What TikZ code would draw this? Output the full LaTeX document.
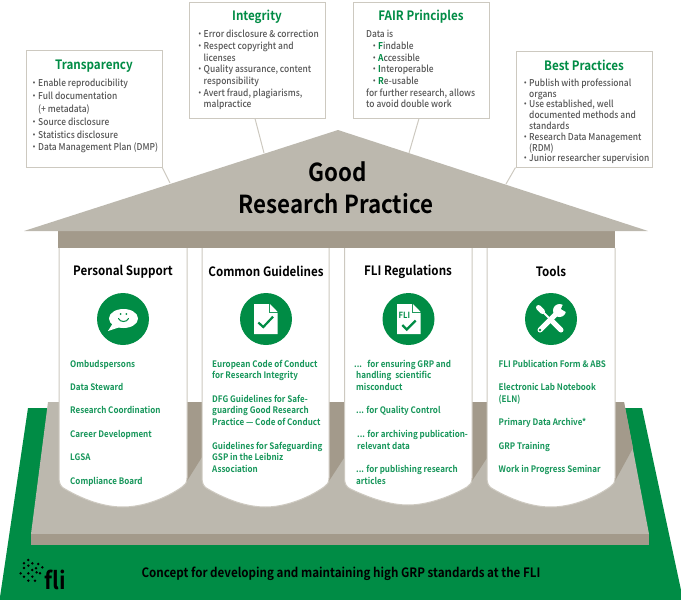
\documentclass[tikz,border=0pt]{standalone}
\usepackage{fontspec}
\setmainfont{Noto Sans CJK SC}[UprightFont=* Medium,BoldFont=* Bold,FakeStretch=0.9]
\definecolor{grpgreen}{HTML}{008C45}
\definecolor{listgreen}{HTML}{16965A}
\definecolor{roofc}{HTML}{BCB8AE}
\definecolor{beamc}{HTML}{A39A8B}
\definecolor{linec}{HTML}{CDC9C0}
\definecolor{bodyc}{HTML}{555555}
\newcommand{\bl}{\makebox[5pt][l]{\hspace{-3.2pt}·}}
\newcommand{\ind}{\hspace*{5pt}}
\newcommand{\gapl}{\\[11.7pt]}
\newcommand{\gr}[1]{\textcolor{grpgreen}{\textbf{#1}}}
\tikzset{
  infobox/.style={draw=linec,line width=1pt,fill=white,inner sep=0pt},
  boxtitle/.style={text=grpgreen,font=\fontsize{12.9}{15}\selectfont\bfseries,inner sep=0pt,text height=9.5pt,text depth=3pt,yshift=-2pt},
  bodytext/.style={text=bodyc,align=left,anchor=north west,inner sep=0pt,font=\fontsize{9.4}{11.7}\selectfont,execute at begin node={\strut}},
  coltitle/.style={text=black,font=\fontsize{12.9}{15}\selectfont\bfseries,inner sep=0pt,text height=9.5pt,text depth=3pt,yshift=-2pt},
  coltext/.style={text=listgreen,align=left,anchor=north west,inner sep=0pt,font=\fontsize{8.95}{11.7}\selectfont\bfseries,execute at begin node={\strut}},
  column/.style={fill=white,draw=linec,line width=1pt},
  icondisc/.style={circle,fill=grpgreen,minimum size=52pt,inner sep=0pt},
  lead/.style={draw=linec,line width=1pt},
}
\begin{document}
\begin{tikzpicture}[x=1pt,y=-1pt]
\useasboundingbox (0,0) rectangle (681,600);
% ground
\fill[grpgreen] (28,408) -- (642,408) -- (681,590) -- (681,600) -- (0,600) -- (0,597) -- cycle;
% platform
\fill[roofc] (48,402) -- (624,402) -- (649,534) -- (31,534) -- cycle;
\fill[beamc] (31,534) rectangle (649,545);
\fill[beamc] (187,402) -- (624,402) -- (633,448) -- (615,481) -- (615,402) -- (487,402) -- (487,458) -- (472,481) -- (472,402) -- (344,402) -- (344,458) -- (329,481) -- (329,402) -- (202,402) -- (202,457) -- (187,481) -- cycle;
% columns
\foreach \l/\r/\b in {59/187/507,202/329/507,344.5/472/505,487/615/507}{
  \path[column] (\l,248) -- (\l,478) .. controls (\l,484) and (\l+2,487) .. (\l+6,489)
    .. controls ({\l+25},{\b-7}) and ({\l+45},\b) .. ({(\l+\r)/2},\b)
    .. controls ({\r-45},\b) and ({\r-22},{\b-8}) .. (\r-5,487)
    .. controls (\r-2,485) and (\r,483) .. (\r,478) -- (\r,248);
}
% roof and beam
\fill[beamc] (58,231) rectangle (615,248);
\fill[roofc] (24,231) -- (338,130) -- (648,231) -- cycle;
\node[font=\fontsize{24.8}{32}\selectfont\bfseries,align=center,text=black,inner sep=0pt] (rooftext) at (336,188) {\hspace*{3pt}Good\\Research Practice};
% boxes
\node[infobox,minimum width=136pt,minimum height=117pt] (transp) at (94,109) {};
\node[infobox,minimum width=136pt,minimum height=116pt] (integ) at (257,60) {};
\node[infobox,minimum width=136pt,minimum height=116pt] (fair) at (421,60) {};
\node[infobox,minimum width=136pt,minimum height=116pt] (best) at (584,109) {};
\coordinate (tend) at (170,183);
\coordinate (iend) at (264,153);
\coordinate (fend) at (409,153);
\coordinate (bend) at (506,184);
\draw[lead] (transp.south east) -- (tend);
\draw[lead] ([xshift=-2pt]integ.south) -- (iend);
\draw[lead] ([xshift=-2pt]fair.south) -- (fend);
\draw[lead] (best.south west) -- (bend);
\node[boxtitle] (t1) at (94,64) {Transparency};
\node[boxtitle] (t2) at (257,15) {Integrity};
\node[boxtitle] (t3) at (421,15) {FAIR Principles};
\node[boxtitle] (t4) at (584,65.5) {Best Practices};
\node[bodytext,font=\fontsize{9.4}{12.85}\selectfont] (b1) at (33,79) {\bl Enable reproducibility\\\bl Full documentation\\\ind (+ metadata)\\\bl Source disclosure\\\bl Statistics disclosure\\\bl Data Management Plan (DMP)};
\node[bodytext] (b2) at (198.5,30) {\bl Error disclosure \& correction\\\bl Respect copyright and\\\ind licenses\\\bl Quality assurance, content\\\ind responsibility\\\bl Avert fraud, plagiarisms,\\\ind malpractice};
\node[bodytext] (b3) at (366,30) {Data is\\\hspace*{7pt}\bl\gr{F}indable\\\hspace*{7pt}\bl\gr{A}ccessible\\\hspace*{7pt}\bl\gr{I}nteroperable\\\hspace*{7pt}\bl\gr{R}e-usable\\for further research, allows\\to avoid double work};
\node[bodytext,font=\fontsize{9.4}{10.8}\selectfont] (b4) at (524,78.5) {\bl Publish with professional\\\ind organs\\\bl Use established, well\\\ind documented methods and\\\ind standards\\\bl Research Data Management\\\ind (RDM)\\\bl Junior researcher supervision};
% column titles
\node[coltitle] (c1) at (123,270.5) {Personal Support};
\node[coltitle] (c2) at (266,271.5) {Common Guidelines};
\node[coltitle] (c3) at (408,270) {FLI Regulations};
\node[coltitle] (c4) at (551,271) {Tools};
% discs
\node[icondisc] (d1) at (123,319) {};
\node[icondisc] (d2) at (266,319) {};
\node[icondisc] (d3) at (408.5,319) {};
\node[icondisc] (d4) at (551,319) {};
% speech icon
\fill[white] (123.5,318.5) ellipse [x radius=14.5pt,y radius=9.5pt];
\fill[white] (113,323) -- (108,331) -- (120,327) -- cycle;
\fill[grpgreen] (120.7,314) circle (1pt) (126.3,314) circle (1pt);
\draw[grpgreen,line width=1pt,line cap=round] (118.5,318.5) .. controls (120,322.5) and (127,322.5) .. (128.5,318.5);
% doc icon
\fill[white] (254,304) -- (269,304) -- (269,313) -- (277.7,313) -- (277.7,334) -- (254,334) -- cycle;
\fill[white] (270,304) -- (277.7,312) -- (270,312) -- cycle;
\draw[grpgreen,line width=2.2pt] (258.3,322.5) -- (263.3,327) -- (273,316.7);
% FLI doc icon
\fill[white] (397,304) -- (412,304) -- (412,313) -- (420.7,313) -- (420.7,334) -- (397,334) -- cycle;
\fill[white] (413,304) -- (420.7,312) -- (413,312) -- cycle;
\node[text=grpgreen,font=\fontsize{8.5}{9}\selectfont\bfseries,inner sep=0pt,anchor=west] (flidoc) at (398.5,315.5) {FLI};
\draw[grpgreen,line width=2.2pt] (402.3,325) -- (406.7,329.5) -- (415.7,320.5);
% tools icon
\draw[white,line width=5pt,line cap=round] (538.5,307.5) -- (542.5,311.5);
\draw[white,line width=2pt] (542,311) -- (552,321);
\draw[white,line width=5pt,line cap=round] (552,321) -- (561,330);
\draw[grpgreen,line width=1pt] (547,321) -- (552,316);
\draw[white,line width=5pt,line cap=round] (540,330) -- (557,313);
\fill[white] (559.5,310.5) circle (6.5pt);
\fill[grpgreen] (561,309) -- (564,302) -- (570,307) -- (566,312) -- cycle;
\fill[grpgreen] (540,330) circle (1.3pt);
% column lists
\node[coltext] (l1) at (70,359.7) {Ombudspersons\gapl Data Steward\gapl Research Coordination\gapl Career Development\gapl LGSA\gapl Compliance Board};
\node[coltext] (l2) at (212,359.7) {European Code of Conduct\\for Research Integrity\gapl DFG Guidelines for Safe-\\guarding Good Research\\Practice — Code of Conduct\gapl Guidelines for Safeguarding\\GSP in the Leibniz\\Association};
\node[coltext] (l3) at (354,359.7) {...\hspace{3pt} for ensuring GRP and\\\hspace*{2pt}handling\hspace{2pt} scientific\\\hspace*{2pt}misconduct\gapl\hspace*{2pt}... for Quality Control\gapl\hspace*{3pt}... for archiving publication-\\\hspace*{3pt}relevant data\gapl\hspace*{2pt}... for publishing research\\\hspace*{2pt}articles};
\node[coltext] (l4) at (498.5,359.7) {FLI Publication Form \& ABS\gapl Electronic Lab Notebook\\(ELN)\gapl Primary Data Archive*\gapl GRP Training\gapl Work in Progress Seminar};
% bottom
\node[text=black,font=\fontsize{12.9}{15}\selectfont\bfseries,inner sep=0pt,text height=9.5pt,text depth=3pt] (foot) at (341,574) {Concept for developing and maintaining high GRP standards at the FLI};
\foreach \px/\py in {85/60,72/70,97/70,85/77,115/72,72/84,108/85,127/82,97/90,85/100,62/100,72/110,97/110,110/97,105/122,85/122,120/100}{
  \fill[black] ({\px/3},{540+\py/3}) circle (1.4pt);
}
\node[text=black,font=\fontsize{24}{24}\selectfont\bfseries,inner sep=0pt,anchor=base west] (logo) at (44.5,589) {fli};
\end{tikzpicture}
\end{document}
